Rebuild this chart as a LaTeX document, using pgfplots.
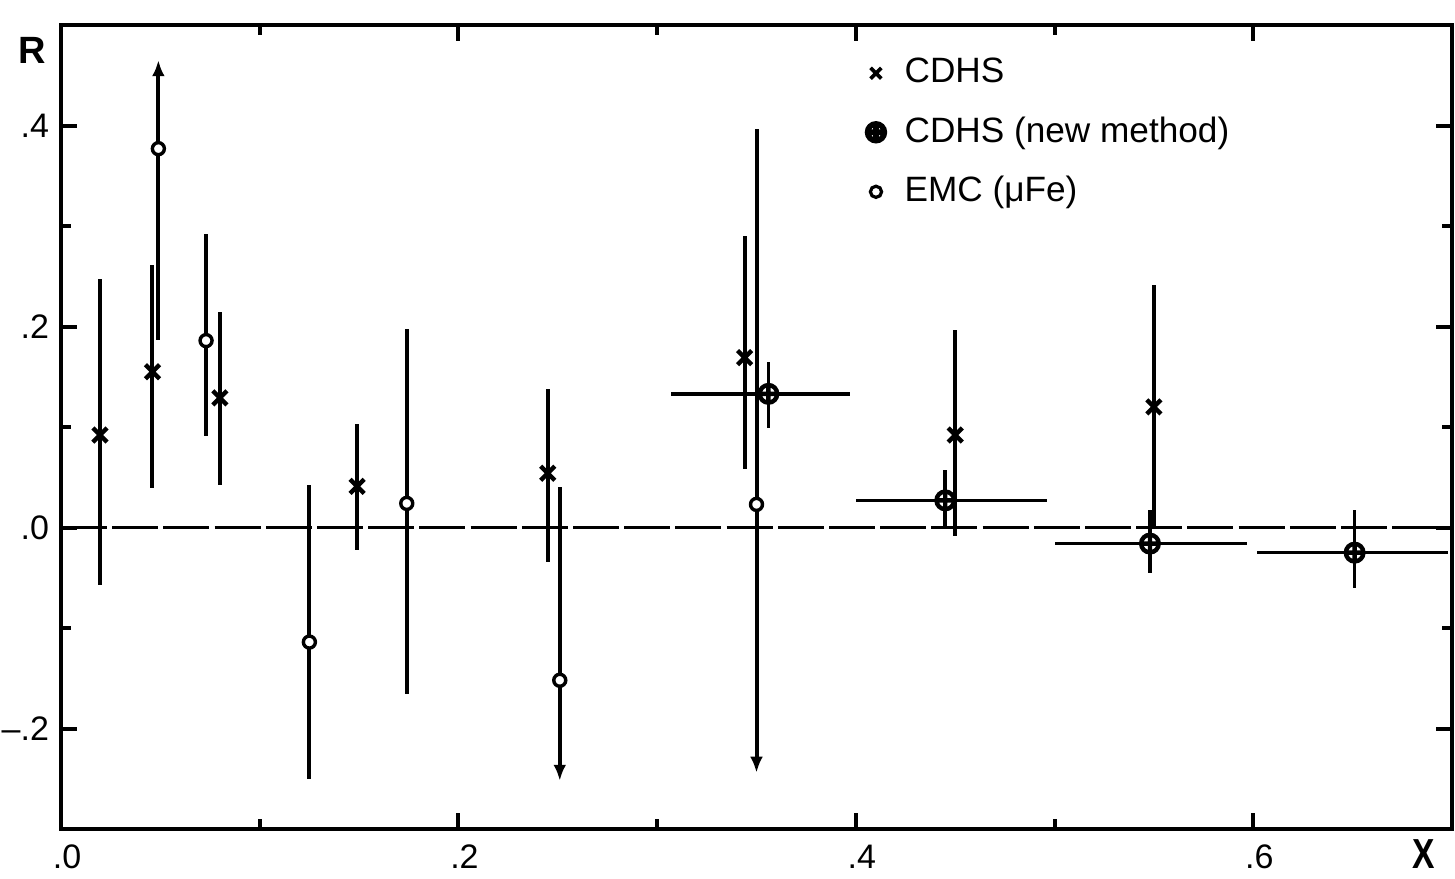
\documentclass[border=0pt]{standalone}
\usepackage{fontspec}
\setmainfont{Liberation Sans}
\usepackage{graphicx}
\usepackage{pgfplots}
\pgfplotsset{compat=1.18}
\usepackage{pgfplotstable}
\usetikzlibrary{arrows.meta}

\pgfplotstableread{
x y ep em
0.0196 0.092 0.155 0.149
0.046 0.155 0.106 0.116
0.080 0.129 0.085 0.087
0.149 0.041 0.062 0.063
0.245 0.054 0.084 0.088
0.344 0.169 0.121 0.111
0.450 0.092 0.105 0.100
0.550 0.120 0.121 0.120
}\cdhs

\pgfplotstableread{
x y xp xm ep em
0.356 0.133 0.041 0.049 0.032 0.034
0.445 0.027 0.051 0.045 0.030 0.026
0.548 -0.016 0.049 0.048 0.033 0.029
0.651 -0.025 0.047 0.049 0.042 0.035
}\cdhsnew

\pgfplotstableread{
x y ep em
0.049 0.377 0 0.190
0.073 0.186 0.106 0.095
0.125 -0.114 0.156 0.136
0.174 0.024 0.174 0.190
0.251 -0.152 0.192 0
0.350 0.023 0.374 0
}\emc

\begin{document}
\begin{tikzpicture}
\useasboundingbox (-15.25pt,-12.25pt) rectangle (348.5pt,207.25pt);
\begin{axis}[
  scale only axis, width=347.75pt, height=201pt,
  xmin=0, xmax=0.7, ymin=-0.3, ymax=0.5,
  axis line style={line width=1.1pt},
  xtick={0,0.2,0.4,0.6}, minor xtick={0.1,0.3,0.5},
  ytick={-0.2,0,0.2,0.4}, minor ytick={-0.1,0.1,0.3},
  xticklabels={.0,.2,.4,.6}, yticklabels={--.2,.0,.2,.4},
  tick align=inside,
  major tick length=4pt, minor tick length=2.4pt,
  tick style={black, line width=1pt},
  every tick label/.append style={font=\fontsize{8.5}{10}\selectfont, inner sep=0pt},
  xticklabel style={yshift=-3.8pt, xshift=1.5pt},
  yticklabel style={xshift=-2.8pt},
  clip=false,
  legend style={at={(axis cs:0.4055,0.476)}, anchor=north west, draw=none, fill=none,
    inner sep=0pt, row sep=3pt, font=\fontsize{8.8}{10}\selectfont},
  legend cell align=left,
  legend image code/.code={\draw[#1] plot coordinates {(0.1cm,0cm)}; \path (7.3pt,0pt);},
]
\addlegendimage{only marks, mark=x, mark size=1.9pt, line width=0.9pt}
\addlegendentry{CDHS}
\addlegendimage{only marks, mark=oplus, mark size=2.1pt, line width=1.4pt}
\addlegendentry{CDHS (new method)}
\addlegendimage{only marks, mark=*, mark size=1.4pt, mark options={fill=white, draw=black, line width=0.8pt}}
\addlegendentry{EMC (μFe)}

% zero line
\addplot[forget plot, line width=0.9pt, dash pattern=on 11.5pt off 1.3pt] coordinates {(0,0) (0.7,0)};

% arrows (limits)
\addplot[forget plot, line width=1pt, -{Latex[length=4pt,width=3.2pt]}] coordinates {(0.049,0.377) (0.049,0.465)};
\addplot[forget plot, line width=1pt, -{Latex[length=4pt,width=3.2pt]}] coordinates {(0.251,-0.152) (0.251,-0.252)};
\addplot[forget plot, line width=1pt, -{Latex[length=4pt,width=3.2pt]}] coordinates {(0.350,0.023) (0.350,-0.244)};

% CDHS
\addplot[forget plot, only marks, mark=x, mark size=2.5pt, line width=1.1pt,
  error bars/.cd, y dir=both, y explicit, error mark=none, error bar style={line width=1pt}]
  table[x=x, y=y, y error plus=ep, y error minus=em] {\cdhs};

% CDHS new method
\addplot[forget plot, only marks, mark=oplus, mark size=2.2pt, line width=1.1pt,
  error bars/.cd, x dir=both, x explicit, y dir=both, y explicit, error mark=none,
  error bar style={line width=0.9pt}]
  table[x=x, y=y, x error plus=xp, x error minus=xm, y error plus=ep, y error minus=em] {\cdhsnew};

% EMC
\addplot[forget plot, only marks, mark=*, mark size=1.5pt,
  mark options={fill=white, draw=black, line width=0.85pt},
  error bars/.cd, y dir=both, y explicit, error mark=none, error bar style={line width=1pt}]
  table[x=x, y=y, y error plus=ep, y error minus=em] {\emc};

\node[font=\bfseries\fontsize{9.5}{10}\selectfont, inner sep=0pt, xshift=-7.1pt, yshift=-6.25pt] at (rel axis cs:0,1) {R};
\node[font=\bfseries\fontsize{10.5}{12}\selectfont, inner sep=0pt, xshift=-7pt, yshift=-6.3pt] at (rel axis cs:1,0) {\scalebox{0.8}[1]{X}};
\end{axis}
\end{tikzpicture}
\end{document}
